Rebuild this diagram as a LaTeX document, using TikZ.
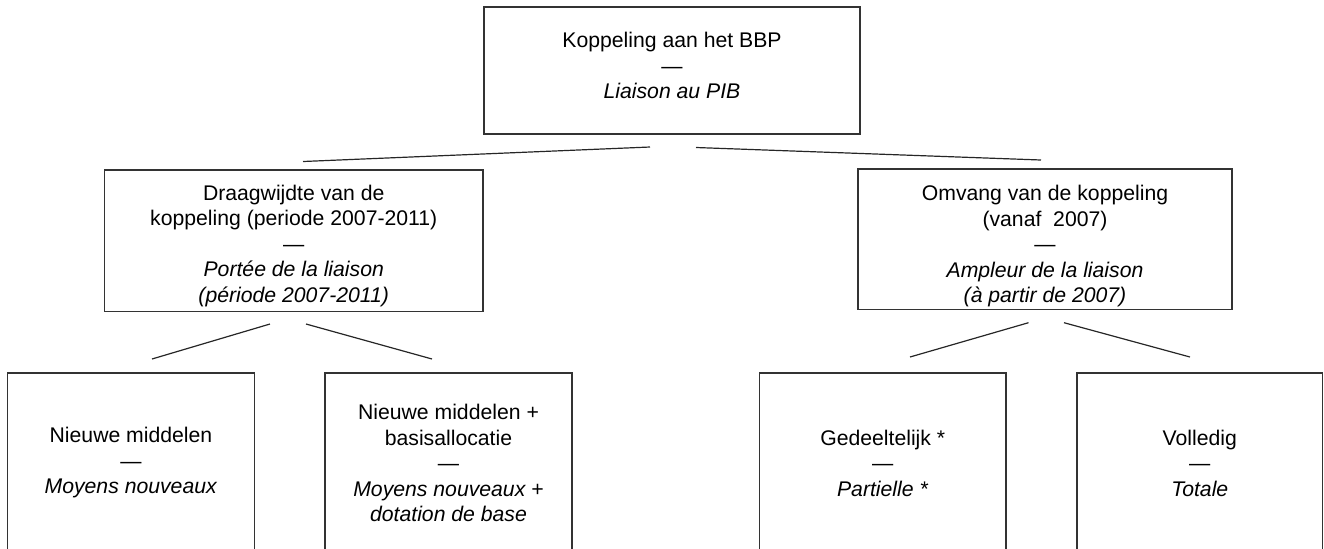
\documentclass[tikz,border=0pt]{standalone}
\usepackage{fontspec}
\setmainfont{Liberation Sans}
\usetikzlibrary{positioning}

\tikzset{
  texto/.style={align=center, inner sep=0pt, font=\fontsize{10.6pt}{12.75pt}\selectfont},
  caja/.style={texto, draw=black!80, line width=0.65pt, rectangle},
  hoja/.style={caja, minimum width=123.5pt, minimum height=90pt},
  rama/.style={draw=black!85, line width=0.6pt}
}

\begin{document}
\begin{tikzpicture}[x=0.5pt, y=-0.5pt]
  % Marco de la figura
  \useasboundingbox (0,0) rectangle (1324,548);
  \clip (0,0) rectangle (1324,548);

  % Nivel superior
  \node[caja, minimum width=188pt, minimum height=63.5pt] (bbp) at (672,70.5) {};
  \node[texto] (bbpT) at (672,65.5) {Koppeling aan het BBP\\—\\\textit{Liaison au PIB}};

  % Nivel medio
  \node[caja, minimum width=189.25pt, minimum height=70.75pt] (draag) at (293.75,240.75) {};
  \node[texto] (draagT) at (293.75,246)
    {Draagwijdte van de\\koppeling (periode 2007-2011)\\—\\\textit{Portée de la liaison}\\\textit{(période 2007-2011)}};
  \node[caja, minimum width=187pt, minimum height=70.25pt] (omvang) at (1045,239.25) {};
  \node[texto] (omvangT) at (1045,246.5)
    {Omvang van de koppeling\\(vanaf\ \ 2007)\\—\\\textit{Ampleur de la liaison}\\\textit{(à partir de 2007)}};

  % Nivel inferior
  \node[hoja] (nieuw) at (131,463) {Nieuwe middelen\\—\\\textit{Moyens nouveaux}};
  \node[hoja] (basis) at (448.5,463) {Nieuwe middelen +\\basisallocatie\\—\\\textit{Moyens nouveaux +}\\\textit{dotation de base}};
  \node[hoja, minimum width=123.25pt] (gedeel) at (882.75,463) {Gedeeltelijk *\\—\\\textit{Partielle *}};
  \node[hoja, minimum width=122.75pt] (volledig) at (1199.75,463) {Volledig\\—\\\textit{Totale}};

  % Coordenadas sueltas de las ramas
  \coordinate (bbpI) at (650,147);
  \coordinate (bbpD) at (696,147.5);
  \coordinate (draagA) at (303,161.5);
  \coordinate (omvangA) at (1041,160);
  \coordinate (draagI) at (270,324);
  \coordinate (draagD) at (306,324);
  \coordinate (nieuwA) at (152,359);
  \coordinate (basisA) at (432,359);
  \coordinate (omvangI) at (1028.5,322.7);
  \coordinate (omvangD) at (1064,322.7);
  \coordinate (gedeelA) at (910,357);
  \coordinate (volledigA) at (1190,357);

  % Ramas
  \draw[rama] (bbpI) -- (draagA);
  \draw[rama] (bbpD) -- (omvangA);
  \draw[rama] (draagI) -- (nieuwA);
  \draw[rama] (draagD) -- (basisA);
  \draw[rama] (omvangI) -- (gedeelA);
  \draw[rama] (omvangD) -- (volledigA);
\end{tikzpicture}
\end{document}
